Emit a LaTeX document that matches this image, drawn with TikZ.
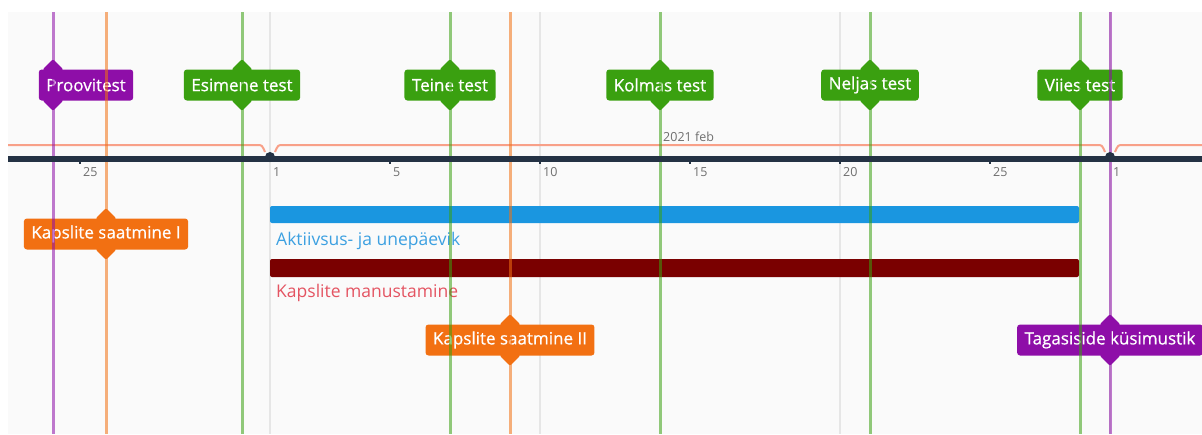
\documentclass[tikz,border=0pt]{standalone}
\usepackage{fontspec}
\setmainfont{Open Sans}
\newfontfamily\tagfont{Open Sans}[FakeBold=0.7]
\usetikzlibrary{shapes.geometric}

\definecolor{paper}{RGB}{250,250,250}
\definecolor{gridgrey}{RGB}{230,230,230}
\definecolor{axisdark}{RGB}{36,50,68}
\definecolor{bracket}{RGB}{248,160,136}
\definecolor{ticktext}{RGB}{110,110,110}
\definecolor{tgreen}{RGB}{58,160,16}
\definecolor{tpurple}{RGB}{142,14,168}
\definecolor{torange}{RGB}{242,112,18}
\definecolor{barblue}{RGB}{26,150,224}
\definecolor{barred}{RGB}{122,0,0}
\definecolor{txtblue}{RGB}{60,160,225}
\definecolor{txtred}{RGB}{228,84,98}

\begin{document}
\begin{tikzpicture}[x=1pt,y=-1pt,
  tag/.style={fill=#1, text=white, rounded corners=3pt, minimum height=31pt,
    inner xsep=7.5pt, inner ysep=0pt, font=\tagfont\fontsize{17}{19}\selectfont},
  notch/.style={diamond, fill=#1, minimum width=21pt, minimum height=21pt,
    inner sep=0pt, rounded corners=2pt},
  marker/.style={draw=#1, draw opacity=0.55, line width=3pt},
  gridline/.style={draw=gridgrey, line width=1.2pt},
  bar/.style={fill=#1, rounded corners=2pt},
  barlabel/.style={anchor=west, inner sep=0pt, text=#1, font=\fontsize{17.5}{20}\selectfont},
  ticklabel/.style={anchor=west, inner sep=0pt, text=ticktext, font=\fontsize{12.5}{14}\selectfont},
  monthline/.style={draw=bracket, line width=2pt}]

\useasboundingbox (0,0) rectangle (1202,434);
\clip (0,0) rectangle (1202,434);
\fill[paper] (8,12) rectangle (1202,434);

% day grid
\foreach \gx in {270,540,840,1110}
  \draw[gridline] (\gx,12) -- (\gx,434);

% month brackets
\draw[monthline] (8,145) -- (257,145) .. controls (262,145) .. (265,152);
\draw[monthline] (275,152) .. controls (278,145) .. (283,145) -- (1097,145)
  .. controls (1102,145) .. (1105,152);
\draw[monthline] (1115,152) .. controls (1118,145) .. (1123,145) -- (1202,145);
\node[ticklabel] (month) at (663,137) {2021 feb};

% ranges
\fill[bar=barblue] (270,206) rectangle (1079,223);
\node[barlabel=txtblue] (aktiivsus) at (276,241) {Aktiivsus- ja unepäevik};
\fill[bar=barred] (270,259) rectangle (1079,277);
\node[barlabel=txtred] (manustamine) at (276,293) {Kapslite manustamine};

% point events: tag box with a notch above and below where the line passes
\node[notch=tpurple] (proov-n) at (53,69.5) {};
\node[notch=tpurple] (proov-s) at (53,100.5) {};
\node[tag=tpurple] (proov) at (86,85) {Proovitest};
\node[notch=tgreen] (t1-n) at (242,69.5) {};
\node[notch=tgreen] (t1-s) at (242,100.5) {};
\node[tag=tgreen] (t1) at (242,85) {Esimene test};
\node[notch=tgreen] (t2-n) at (450,69.5) {};
\node[notch=tgreen] (t2-s) at (450,100.5) {};
\node[tag=tgreen] (t2) at (450,85) {Teine test};
\node[notch=tgreen] (t3-n) at (660,69.5) {};
\node[notch=tgreen] (t3-s) at (660,100.5) {};
\node[tag=tgreen] (t3) at (660,85) {Kolmas test};
\node[notch=tgreen] (t4-n) at (870,69.5) {};
\node[notch=tgreen] (t4-s) at (870,100.5) {};
\node[tag=tgreen] (t4) at (870,85) {Neljas test};
\node[notch=tgreen] (t5-n) at (1080,69.5) {};
\node[notch=tgreen] (t5-s) at (1080,100.5) {};
\node[tag=tgreen] (t5) at (1080,85) {Viies test};
\node[notch=torange] (s1-n) at (106,218.5) {};
\node[notch=torange] (s1-s) at (106,249.5) {};
\node[tag=torange] (s1) at (106,234) {Kapslite saatmine I};
\node[notch=torange] (s2-n) at (510,324.5) {};
\node[notch=torange] (s2-s) at (510,355.5) {};
\node[tag=torange] (s2) at (510,340) {Kapslite saatmine II};
\node[notch=tpurple] (fb-n) at (1110,324.5) {};
\node[notch=tpurple] (fb-s) at (1110,355.5) {};
\node[tag=tpurple] (fb) at (1110,340) {Tagasiside küsimustik};

% event lines, full height
\coordinate (proov-top) at (53,12);   \coordinate (proov-bot) at (53,434);
\coordinate (s1-top) at (106,12);     \coordinate (s1-bot) at (106,434);
\coordinate (t1-top) at (242,12);     \coordinate (t1-bot) at (242,434);
\coordinate (t2-top) at (450,12);     \coordinate (t2-bot) at (450,434);
\coordinate (s2-top) at (510,12);     \coordinate (s2-bot) at (510,434);
\coordinate (t3-top) at (660,12);     \coordinate (t3-bot) at (660,434);
\coordinate (t4-top) at (870,12);     \coordinate (t4-bot) at (870,434);
\coordinate (t5-top) at (1080,12);    \coordinate (t5-bot) at (1080,434);
\coordinate (fb-top) at (1110,12);    \coordinate (fb-bot) at (1110,434);
\draw[marker=tpurple] (proov-top) -- (proov-bot);
\draw[marker=torange] (s1-top) -- (s1-bot);
\draw[marker=tgreen] (t1-top) -- (t1-bot);
\draw[marker=tgreen] (t2-top) -- (t2-bot);
\draw[marker=torange] (s2-top) -- (s2-bot);
\draw[marker=tgreen] (t3-top) -- (t3-bot);
\draw[marker=tgreen] (t4-top) -- (t4-bot);
\draw[marker=tgreen] (t5-top) -- (t5-bot);
\draw[marker=tpurple] (fb-top) -- (fb-bot);

% time axis
\coordinate (axl) at (8,159);
\coordinate (axr) at (1202,159);
\draw[axisdark, line width=6pt] (axl) -- (axr);
\fill[axisdark] (270,157) circle (5);
\fill[axisdark] (1110,157) circle (5);
\foreach \tx/\tl in {80/25,390/5,540/10,690/15,840/20,990/25}{
  \fill[axisdark] (\tx-1,161) rectangle (\tx+1,164);
  \node[ticklabel] at (\tx+3,172) {\tl};
}
\node[ticklabel] at (273,172) {1};
\node[ticklabel] at (1113,172) {1};
\end{tikzpicture}
\end{document}
